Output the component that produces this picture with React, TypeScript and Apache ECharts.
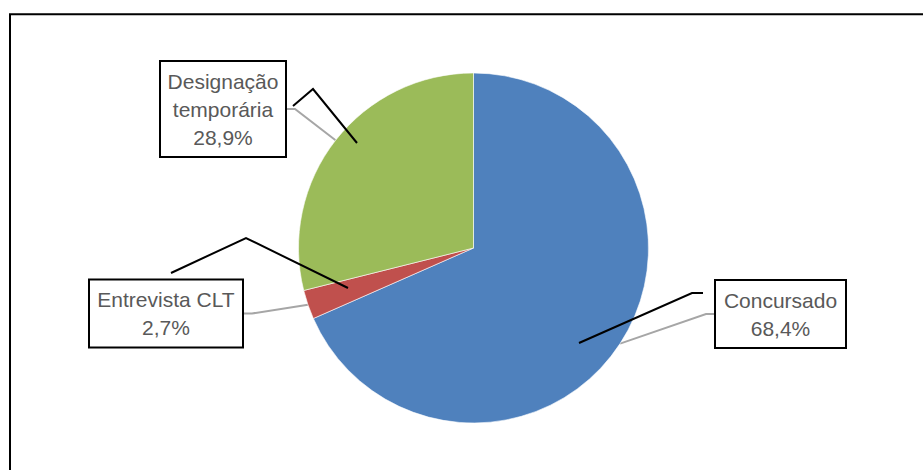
import React, { useEffect, useRef } from "react";
import * as echarts from "echarts";

const categories = ["Concursado", "Entrevista CLT", "Designação temporária"];
const values = [68.4, 2.7, 28.9];
const labelTexts = ["Concursado\n68,4%", "Entrevista CLT\n2,7%", "Designação\ntemporária\n28,9%"];
const colors = ["#4F81BD", "#C0504D", "#9BBB59"];

// label box centers and widths (layout only)
const labelCenters: [number, number][] = [
  [780.5, 314],
  [166, 313.5],
  [223, 109],
];
const labelWidths = [129, 152, 124];

export default function App() {
  const ref = useRef<HTMLDivElement>(null);
  useEffect(() => {
    document.body.style.margin = "0";
    const chart = echarts.init(ref.current!, null, { renderer: "svg" });
    chart.setOption({
      animation: false,
      backgroundColor: "#ffffff",
      graphic: [
        {
          type: "rect",
          shape: { x: 10, y: 14.3, width: 930, height: 480 },
          style: { fill: "none", stroke: "#000", lineWidth: 2 },
          z: 100,
        },
        {
          type: "polyline",
          shape: { points: [[293, 106], [313, 89], [357, 143]] },
          style: { fill: "none", stroke: "#000", lineWidth: 2 },
          z: 100,
        },
        {
          type: "polyline",
          shape: { points: [[171, 273], [246, 238], [348, 288]] },
          style: { fill: "none", stroke: "#000", lineWidth: 2 },
          z: 100,
        },
        {
          type: "polyline",
          shape: { points: [[579, 343], [692, 293], [703, 293]] },
          style: { fill: "none", stroke: "#000", lineWidth: 2 },
          z: 100,
        },
      ],
      series: [
        {
          type: "pie",
          center: [473.5, 248],
          radius: [0, 175],
          startAngle: 90,
          clockwise: true,
          silent: true,
          itemStyle: { borderColor: "#ffffff", borderWidth: 0.6 },
          label: {
            show: true,
            fontFamily: "Liberation Sans",
            fontSize: 21,
            lineHeight: 28,
            color: "#595959",
            backgroundColor: "#ffffff",
            borderColor: "#000000",
            borderWidth: 2,
            padding: [5, 0, 5, 0],
            align: "center",
          },
          labelLine: {
            show: true,
            length: 10,
            length2: 8,
            lineStyle: { color: "#A6A6A6", width: 2 },
          },
          labelLayout: (params: any) => {
            const i = params.dataIndex;
            return {
              x: labelCenters[i][0],
              y: labelCenters[i][1],
              align: "center",
              verticalAlign: "middle",
            };
          },
          data: categories.map((name, i) => ({
            name,
            value: values[i],
            itemStyle: { color: colors[i] },
            label: { formatter: labelTexts[i], width: labelWidths[i] },
          })),
        },
      ],
    });
    return () => chart.dispose();
  }, []);
  return <div ref={ref} style={{ width: 923, height: 470 }} />;
}
